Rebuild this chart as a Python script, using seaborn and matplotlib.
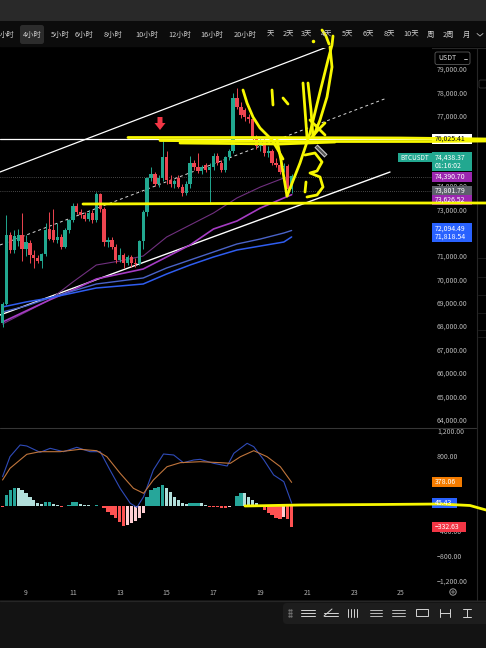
import numpy as np
import matplotlib
matplotlib.use("Agg")
import matplotlib.pyplot as plt
from matplotlib.patches import Rectangle, FancyBboxPatch, Polygon, Circle
import seaborn as sns

W, H = 486, 648

# ---------------- data: 4h candles ----------------
start_day = 8.0
bar_hours = 4
candle_open = [68150, 68950, 71900, 71250, 71650, 71900, 71300, 71550, 71050, 70900,
               70800, 71100, 72150, 72100, 71700, 71800, 71400, 72100, 72550, 73150,
               72900, 72750, 72600, 72850, 72550, 73650, 73000, 71600, 71700, 71400,
               70850, 71050, 70700, 70950, 70700, 70650, 71650, 72900, 74350, 74500,
               74100, 74350, 75250, 74250, 74100, 74350, 73950, 73700, 74100, 75000,
               74800, 74650, 74900, 74700, 74800, 75300, 75000, 74700, 75250, 75500,
               77750, 77400, 77250, 76950, 76850, 76100, 75700, 75900, 75400, 75500,
               75000, 74900, 74800, 74850, 73850]
candle_high = [69050, 72750, 72050, 72100, 72150, 72850, 71900, 71700, 71250, 71050,
               71150, 72400, 72900, 73000, 72400, 71950, 72200, 72600, 73250, 73250,
               73000, 72900, 72950, 72950, 73750, 73700, 73100, 71800, 71800, 71500,
               71350, 71150, 71050, 71050, 70900, 71700, 72950, 74400, 74800, 74600,
               74450, 75950, 75500, 74450, 74300, 74450, 74100, 74200, 75300, 75100,
               75400, 74900, 75000, 75000, 75400, 75400, 75100, 75300, 75600, 78000,
               78200, 77600, 77350, 77100, 77000, 76200, 76000, 76000, 75700, 75600,
               75200, 75100, 75000, 74950, 74500]
candle_low = [67950, 68900, 71150, 71150, 71450, 70800, 71000, 70700, 70500, 70700,
              70500, 71000, 71700, 71600, 71550, 71300, 71350, 72000, 72450, 72800,
              72650, 72500, 72500, 72400, 72450, 72900, 71450, 71400, 71300, 70700,
              70750, 70500, 70600, 70550, 70550, 70600, 71300, 72700, 74200, 74000,
              73950, 74200, 74100, 73950, 73900, 73900, 73550, 73600, 73900, 74700,
              74550, 74500, 74600, 73250, 74700, 74900, 74600, 74600, 75100, 75400,
              77300, 76900, 76800, 76700, 75950, 75600, 75500, 75300, 75250, 74900,
              74800, 74500, 74600, 73600, 73700]
candle_close = [68950, 71900, 71250, 71850, 71900, 71300, 71600, 71050, 70900, 70800,
                71100, 72100, 71750, 71700, 71800, 71400, 72100, 72550, 73150, 72900,
                72750, 72600, 72850, 72550, 73650, 73000, 71600, 71700, 71400, 70850,
                71050, 70700, 70950, 70700, 70650, 71650, 72900, 74350, 74500, 74100,
                74350, 75250, 74250, 74100, 74200, 73950, 73700, 74100, 75000, 74800,
                74650, 74800, 74700, 74800, 75300, 75000, 74700, 75250, 75500, 77750,
                77400, 77050, 76950, 76850, 76100, 75700, 75900, 75400, 75500, 75000,
                74900, 74600, 74850, 73850, 74438.37]

# moving averages read at daily points
ma_days = [8, 9, 10, 11, 12, 13, 14, 15, 16, 17, 18, 19, 20, 20.333]
ma_fast = [68092, 68606, 69119, 69890, 70617, 70788, 71002, 71816, 72329, 72843, 73485, 73955, 74340, 74390.70]
ma_slow = [68178, 68649, 69119, 69547, 70018, 70232, 70446, 70960, 71474, 72158, 72500, 73057, 73485, 73626.52]
ma_blue_a = [68606, 68862, 69205, 69504, 69804, 69932, 70061, 70489, 70831, 71174, 71516, 71730, 71987, 72094.49]
ma_blue_b = [68820, 69034, 69205, 69419, 69633, 69718, 69804, 70232, 70617, 70960, 71259, 71430, 71601, 71818.54]

# channel drawings (day, price)
trend_upper_days, trend_upper_price = [7.89, 21.84], [74597, 79947]
trend_lower_days, trend_lower_price = [7.89, 24.53], [68477, 74597]
trend_mid_days, trend_mid_price = [7.89, 24.40], [71473, 77765]
level_white = 76025.41
dotted_levels = [74390.70, 73801.79]

# MACD
macd_hist = [-10, 176, 256, 293, 283, 256, 213, 149, 96, 53, 32, 64, 69, 32, 16, -21, 5, 16,
             69, 69, 32, 16, 11, -3, 10, 5, -37, -91, -144, -197, -250, -320, -304, -277,
             -240, -197, -117, 149, 256, 283, 309, 336, 283, 229, 149, 96, 53, 32, 43, 53,
             53, 43, 16, -11, -21, -21, -37, -37, -21, 5, 160, 213, 203, 149, 96, 43, -21,
             -64, -107, -144, -197, -213, -181, -213, -332.63]
macd_pos = [0, 1.9, 4.5, 6.2, 9.6, 12.2, 15.6, 19, 22.4, 25, 27.5, 30.1, 32.7, 34.4, 36.1,
            38.6, 41.2, 43.8, 46.3, 48.9, 50.6, 54, 57.5, 59.2, 62.6, 64.3, 66.9, 69.4, 72, 74]
macd_line = [469, 789, 976, 960, 859, 923, 869, 939, 869, 869, 576, 283, 43, -21, 149,
             576, 832, 816, 693, 736, 747, 683, 640, 843, 1003, 949, 736, 496, 389, 45.43]
signal_pos = [0, 1.9, 6.2, 9.6, 14.7, 19.8, 24.1, 26.7, 30.1, 33.5, 36.1, 38.6, 42.1, 45.5,
              50.6, 55.8, 58.3, 60.9, 64.3, 67.7, 71.1, 74]
signal_line = [416, 603, 827, 869, 869, 907, 885, 789, 523, 283, 203, 416, 629, 693, 709,
               693, 683, 789, 885, 789, 629, 378.06]

date_ticks = [9, 11, 13, 15, 17, 19, 21, 23, 25]
# price scale labels visible (others are hidden behind value boxes)
price_ticks = [64000, 65000, 66000, 67000, 68000, 69000, 70000, 71000, 73000, 74000,
               77000, 78000, 79000]
macd_ticks = [-1200, -800, -400, 800, 1200]

tf_labels = ["小时", "4小时", "5小时", "6小时", "8小时", "10小时", "12小时", "16小时", "20小时",
             "天", "2天", "3天", "4天", "5天", "6天", "8天", "10天", "周", "2周", "月"]
tf_x = [7, 32, 60, 84, 113, 147, 180, 212, 245, 270, 288, 307, 327, 348, 368, 389, 411, 430, 448, 466]

# hand-drawn yellow annotations (screen pixels)
yellow_strokes = [
    [(83, 204), (200, 203.6), (350, 203), (486, 203)],
    [(128, 137.5), (250, 137.5), (400, 138), (486, 139)],
    [(160, 140.5), (300, 141.5), (430, 141.5), (486, 141)],
    [(180, 143), (280, 144), (335, 142)],
    [(243, 90), (247, 103), (253, 117), (260, 128), (267, 135), (272, 140), (278, 150), (283, 159)],
    [(277, 140), (281, 160), (284, 178), (287, 196)],
    [(287, 196), (300, 163), (310, 133), (320, 92), (328, 60), (332, 45), (333, 36)],
    [(330, 47), (332, 67), (327, 97), (320, 120), (314, 135)],
    [(303, 83), (305, 110), (307, 137)],
    [(308, 83), (311, 110), (313, 137)],
    [(310, 120), (318, 128), (325, 135)],
    [(325, 123), (318, 130), (312, 137)],
    [(305, 155), (315, 153), (322, 162), (317, 171), (310, 173), (320, 177), (323, 187), (317, 195), (307, 197)],
    [(306, 182), (305, 192)],
    [(272, 90), (273, 105)],
    [(283, 98), (288, 104)],
    [(322, 30), (326, 36), (329, 44)],
]
yellow_macd = [(245, 506), (300, 505), (380, 504.5), (440, 504), (470, 505.5), (486, 510)]

# ---------------- style ----------------
sns.set_theme(style="dark")
plt.rcParams['font.family'] = ['Noto Sans CJK SC', 'DejaVu Sans']
plt.rcParams['axes.unicode_minus'] = True

fig = plt.figure(figsize=(W / 100, H / 100), dpi=100, facecolor='black')

def frac(x0, y0, x1, y1):
    return [x0 / W, 1 - y1 / H, (x1 - x0) / W, (y1 - y0) / H]

bg = fig.add_axes([0, 0, 1, 1])
bg.set_xlim(0, W); bg.set_ylim(H, 0); bg.axis('off'); bg.set_zorder(0)
bg.add_patch(Rectangle((0, 0), W, 21, fc='#292929', ec='none'))
bg.add_patch(Rectangle((0, 21), W, 26, fc='#0c0c0c', ec='none'))
bg.add_patch(Rectangle((0, 47), W, 553, fc='#000000', ec='none'))
bg.add_patch(Rectangle((0, 600), W, 48, fc='#131313', ec='none'))
bg.plot([0, W], [47.5, 47.5], color='#262626', lw=0.8)
bg.plot([0, W], [600.5, 600.5], color='#262626', lw=0.8)

def day_of(px):
    return 9 + (px - 26) / 23.44

UP, DOWN = '#22a890', '#ee4550'

# ---- main price axes ----
ax = fig.add_axes(frac(0, 48, 432, 427))
ax.set_zorder(2)
ax.set_facecolor('black')
days = start_day + np.arange(len(candle_open)) * bar_hours / 24
o = np.array(candle_open, float); c = np.array(candle_close, float)
hi = np.array(candle_high, float); lo = np.array(candle_low, float)
cols = np.where(c >= o, UP, DOWN)

ax.axhline(level_white, color='white', lw=0.9, zorder=2)
for lv in dotted_levels:
    ax.axhline(lv, color='#8a8a8a', lw=0.5, ls=(0, (1, 2)), zorder=1)

sns.lineplot(x=trend_upper_days, y=trend_upper_price, ax=ax, color='white', lw=0.9, zorder=2)
sns.lineplot(x=trend_lower_days, y=trend_lower_price, ax=ax, color='white', lw=1.0, zorder=2)
sns.lineplot(x=trend_mid_days, y=trend_mid_price, ax=ax, color='#d8d8d8', lw=0.7,
             linestyle=(0, (3, 3)), zorder=2)
sns.lineplot(x=ma_days, y=ma_fast, ax=ax, color='#70307f', lw=0.8, zorder=3)
sns.lineplot(x=ma_days, y=ma_slow, ax=ax, color='#a63cc4', lw=1.2, zorder=3)
sns.lineplot(x=ma_days, y=ma_blue_a, ax=ax, color='#4a63c8', lw=1.0, zorder=3)
sns.lineplot(x=ma_days, y=ma_blue_b, ax=ax, color='#2f5df0', lw=1.1, zorder=3)

ax.vlines(days, lo, hi, colors=cols, lw=0.7, zorder=4)
body = np.maximum(np.abs(c - o), 45)
ax.bar(days, body, bottom=np.minimum(o, c), width=0.14, color=cols, lw=0, zorder=5)

ax.set_xlim(day_of(0), day_of(432))
ax.set_ylim(63683, 79905)
ax.set_xticks([])
ax.yaxis.tick_right()
ax.set_yticks(price_ticks)
ax.set_yticklabels([f"{v:,.2f}" for v in price_ticks])
ax.tick_params(axis='y', length=0, pad=3.6, labelsize=5, labelcolor='#b8b8b8')
ax.grid(False)
for s in ax.spines.values():
    s.set_visible(False)
ax.set_xlabel(''); ax.set_ylabel('')

# ---- MACD axes ----
mx = fig.add_axes(frac(0, 428, 432, 583))
mx.set_zorder(2)
mx.set_facecolor('black')
hist = np.array(macd_hist, float)
hcols = []
for k, h in enumerate(hist):
    prev = hist[k - 1] if k > 0 else 0
    if h >= 0:
        hcols.append('#26a69a' if h >= prev else '#b2dfdb')
    else:
        hcols.append('#ffcdd2' if h > prev else '#ff5252')
mx.bar(days, hist, width=0.14, color=hcols, lw=0, zorder=2)
sns.lineplot(x=start_day + np.array(macd_pos) / 6, y=macd_line, ax=mx, color='#2f4bb8', lw=0.8, zorder=3)
sns.lineplot(x=start_day + np.array(signal_pos) / 6, y=signal_line, ax=mx, color='#c0753c', lw=0.8, zorder=3)
mx.set_xlim(day_of(0), day_of(432))
mx.set_ylim(-1232, 1248)
mx.yaxis.tick_right()
mx.set_yticks(macd_ticks)
mx.set_yticklabels([f"{v:,.2f}".replace('-', '−') for v in macd_ticks])
mx.set_xticks(date_ticks)
mx.set_xticklabels([str(d) for d in date_ticks])
mx.tick_params(axis='y', length=0, pad=3.6, labelsize=5, labelcolor='#b8b8b8')
mx.tick_params(axis='x', length=0, pad=4.5, labelsize=5, labelcolor='#b0b0b0')
mx.grid(False)
for s in mx.spines.values():
    s.set_visible(False)
mx.set_xlabel(''); mx.set_ylabel('')

# ---- overlay ----
ov = fig.add_axes([0, 0, 1, 1])
ov.set_xlim(0, W); ov.set_ylim(H, 0); ov.axis('off'); ov.set_zorder(10)
ov.patch.set_alpha(0)

def ypx(axis, val):
    return H - axis.transData.transform((days[0], val))[1]

ov.plot([0, 476], [427.5, 427.5], color='#363636', lw=0.8)
ov.plot([476.5, 476.5], [48, 600], color='#262626', lw=0.8)
for yy in [258, 277, 295, 313, 330, 337]:
    ov.plot([478, 486], [yy, yy], color='#1e1e1e', lw=0.6)
ov.add_patch(FancyBboxPatch((479, 80), 8, 8, boxstyle='round,pad=0,rounding_size=1.5',
                            fc='none', ec='#333333', lw=0.6))

# toolbar
ov.add_patch(FancyBboxPatch((20, 25), 24, 19, boxstyle='round,pad=0,rounding_size=2.5',
                            fc='#2c2c2c', ec='none'))
for t, x in zip(tf_labels, tf_x):
    ov.text(x, 35, t, color='#cfcfcf', fontsize=5.3, ha='center', va='center')
ov.plot([477, 480, 483], [33.5, 36, 33.5], color='#bbbbbb', lw=0.6)

# USDT selector
ov.add_patch(FancyBboxPatch((435, 52), 35, 12.5, boxstyle='round,pad=0,rounding_size=2',
                            fc='black', ec='#5a5a5a', lw=0.6))
ov.text(438, 58.5, "USDT", color='#dddddd', fontsize=5, ha='left', va='center')
ov.plot([464, 467], [58.5, 58.5], color='#dddddd', lw=0.6)

def box(yc, lines, fc, tc, x0=432, w=40, lh=8.8):
    h = lh * len(lines) + 1
    ov.add_patch(Rectangle((x0, yc - h / 2), w, h, fc=fc, ec='none'))
    for k, t in enumerate(lines):
        ov.text(x0 + 3, yc - h / 2 + 0.5 + lh * (k + 0.5), t, color=tc, fontsize=5,
                ha='left', va='center')

box(ypx(ax, level_white), ["76,025.41"], 'white', '#111111')
box(ypx(ax, candle_close[-1]) - 14, ["74,438.37", "01:16:02"], '#22a890', 'white')
ov.add_patch(Rectangle((398, ypx(ax, candle_close[-1]) - 23), 34, 9.5, fc='#22a890', ec='none'))
ov.text(400, ypx(ax, candle_close[-1]) - 18.2, "BTCUSDT", color='white', fontsize=4.6, ha='left', va='center')
box(ypx(ax, ma_fast[-1]), ["74,390.70"], '#9c27b0', 'white')
box(ypx(ax, dotted_levels[1]), ["73,801.79"], '#5d606b', 'white')
box(ypx(ax, ma_slow[-1]) + 5, ["73,626.52"], '#9c27b0', 'white')
box((ypx(ax, ma_blue_a[-1]) + ypx(ax, ma_blue_b[-1])) / 2 - 1, ["72,094.49", "71,818.54"], '#2962ff', 'white')
box(ypx(mx, signal_line[-1]), ["378.06"], '#f57c00', 'white', w=30)
box(ypx(mx, macd_line[-1]), ["45.43"], '#2962ff', 'white', w=25)
box(ypx(mx, macd_hist[-1]), ["−332.63"], '#f23645', 'white', w=34)

# red arrow marker
ov.add_patch(Polygon([(157.5, 117), (162.5, 117), (162.5, 123), (165.5, 123), (160, 130),
                      (154.5, 123), (157.5, 123)], closed=True, fc='#f23645', ec='none'))

# gear icon
ov.add_patch(Circle((453, 592), 3.2, fc='none', ec='#9a9a9a', lw=0.7))
ov.add_patch(Circle((453, 592), 1.1, fc='none', ec='#9a9a9a', lw=0.6))

# drawing toolbar
ov.add_patch(FancyBboxPatch((283, 603), 210, 21, boxstyle='round,pad=0,rounding_size=4',
                            fc='#1d1d1d', ec='none'))
ic = '#d4d4d4'
for dy in (-3, 0, 3):
    ov.plot([289, 291], [613 + dy, 613 + dy], ls='none', marker='.', ms=1.2, color='#777777')
ov.plot([301, 315], [610, 610], color=ic, lw=0.7); ov.plot([301, 315], [613, 613], color=ic, lw=0.7)
ov.plot([301, 315], [616, 616], color=ic, lw=0.7)
ov.plot([324, 332], [616, 609], color=ic, lw=0.7); ov.plot([324, 338], [616, 616], color=ic, lw=0.7)
ov.plot([324, 338], [613, 613], color=ic, lw=0.7)
for xx in (348, 351, 354, 357):
    ov.plot([xx, xx], [609, 617], color=ic, lw=0.7)
ov.plot([370, 382], [610, 610], color=ic, lw=0.6); ov.plot([370, 382], [613, 613], color=ic, lw=0.6)
ov.plot([370, 382], [616, 616], color=ic, lw=0.6)
ov.plot([392, 405], [610, 610], color=ic, lw=0.6); ov.plot([392, 405], [613, 613], color=ic, lw=0.6)
ov.plot([392, 405], [616, 616], color=ic, lw=0.6)
ov.add_patch(Rectangle((416, 609), 12, 7, fc='none', ec=ic, lw=0.7))
ov.plot([440, 440], [609, 617], color=ic, lw=0.7); ov.plot([450, 450], [609, 617], color=ic, lw=0.7)
ov.plot([440, 450], [613, 613], color=ic, lw=0.7)
ov.plot([463, 471], [609, 609], color=ic, lw=0.7); ov.plot([467, 467], [609, 617], color=ic, lw=0.7)
ov.plot([463, 471], [617, 617], color=ic, lw=0.7)

# yellow freehand annotations
for stroke in yellow_strokes:
    xs, ys = zip(*stroke)
    ov.plot(xs, ys, color='#f7f700', lw=2.0, solid_capstyle='round', solid_joinstyle='round')
xs, ys = zip(*yellow_macd)
ov.plot(xs, ys, color='#f7f700', lw=2.0, solid_capstyle='round')
ov.plot([313], [41], marker='o', ms=1.5, color='#f7f700')

# pen cursor
ov.plot([316, 326], [146, 156], color='#cccccc', lw=3.2, solid_capstyle='butt')
ov.plot([316.5, 325.5], [146.5, 155.5], color='#555555', lw=1.6, solid_capstyle='butt')

fig.savefig("out.png", dpi=100, facecolor='black')
